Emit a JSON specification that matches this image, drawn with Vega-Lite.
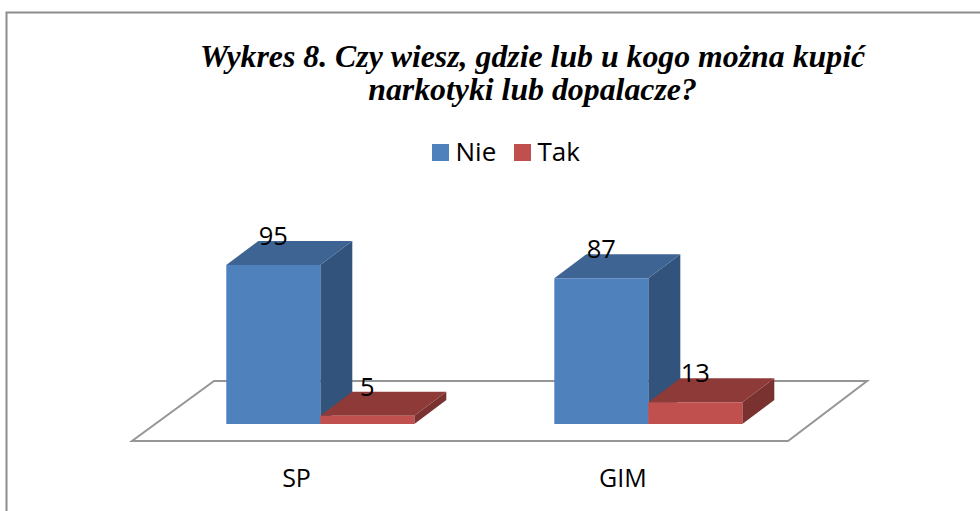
{"$schema":"https://vega.github.io/schema/vega-lite/v6.json","autosize":{"type":"none"},"padding":{"left":6.5,"top":12.5,"right":0,"bottom":0},"width":1000,"height":520,"background":"white","view":{"stroke":"#8c8c8c","strokeWidth":2,"fill":"white"},"title":{"text":["Wykres 8. Czy wiesz, gdzie lub u kogo można kupić","narkotyki lub dopalacze?"],"font":"Liberation Serif","fontSize":31.8,"fontWeight":"bold","fontStyle":"italic","color":"#000000","lineHeight":33,"anchor":"middle","frame":"group","dx":26,"dy":94,"offset":0},"data":{"values":[{"group":"SP","series":"Nie","value":95},{"group":"SP","series":"Tak","value":5},{"group":"GIM","series":"Nie","value":87},{"group":"GIM","series":"Tak","value":13}]},"transform":[{"calculate":"(datum.group==='SP'?0.504:1.504)+(datum.series==='Nie'?-0.2866:0)","as":"u0"},{"calculate":"datum.u0+0.2866","as":"u1"},{"calculate":"(datum.u0+datum.u1)/2","as":"uc"},{"calculate":"datum.group+'-'+datum.series","as":"id"}],"layer":[{"data":{"values":[{"surface":"floor"}]},"transform":[{"calculate":"[{x:-0.07,lo:-10.15,hi:-10.15},{x:0.18,lo:-10.15,hi:25.7},{x:1.93,lo:-10.15,hi:25.7},{x:2.171,lo:25.7,hi:25.7}]","as":"pts"},{"flatten":["pts"]},{"calculate":"datum.pts.x","as":"px"},{"calculate":"datum.pts.lo","as":"plo"},{"calculate":"datum.pts.hi","as":"phi"}],"mark":{"type":"area","fill":"white","stroke":"#969696","strokeWidth":2,"clip":false},"encoding":{"x":{"field":"px","type":"quantitative","scale":{"domain":[-0.4527,2.596]},"axis":{"values":[0.43,1.425],"labelExpr":"datum.value<1?'SP':'GIM'","title":null,"grid":false,"domain":false,"ticks":false,"labelFont":"Open Sans","labelFontSize":25,"labelColor":"#000000","labelPadding":0,"offset":-54,"labelBaseline":"middle"}},"y":{"field":"plo","type":"quantitative","stack":null,"scale":{"domain":[-64.8,245.8]},"axis":null},"y2":{"field":"phi"}}},{"mark":{"type":"area"},"transform":[{"calculate":"[{x:datum.u1,lo:0,hi:datum.value},{x:datum.u1+0.09756,lo:14.34,hi:datum.value+14.34}]","as":"pts"},{"flatten":["pts"]},{"calculate":"datum.pts.x","as":"px"},{"calculate":"datum.pts.lo","as":"plo"},{"calculate":"datum.pts.hi","as":"phi"}],"encoding":{"x":{"field":"px","type":"quantitative","scale":{"domain":[-0.4527,2.596]}},"y":{"field":"plo","type":"quantitative","stack":null,"scale":{"domain":[-64.8,245.8]}},"y2":{"field":"phi"},"detail":{"field":"id"},"fill":{"condition":{"test":"datum.series==='Nie'","value":"#31537C"},"value":"#7A3231"}}},{"mark":{"type":"area"},"transform":[{"calculate":"[{x:datum.u0,lo:datum.value,hi:datum.value},{x:datum.u0+0.09756,lo:datum.value,hi:datum.value+14.34},{x:datum.u1,lo:datum.value,hi:datum.value+14.34},{x:datum.u1+0.09756,lo:datum.value+14.34,hi:datum.value+14.34}]","as":"pts"},{"flatten":["pts"]},{"calculate":"datum.pts.x","as":"px"},{"calculate":"datum.pts.lo","as":"plo"},{"calculate":"datum.pts.hi","as":"phi"}],"encoding":{"x":{"field":"px","type":"quantitative","scale":{"domain":[-0.4527,2.596]}},"y":{"field":"plo","type":"quantitative","stack":null,"scale":{"domain":[-64.8,245.8]}},"y2":{"field":"phi"},"detail":{"field":"id"},"fill":{"condition":{"test":"datum.series==='Nie'","value":"#3E6494"},"value":"#8E3A38"}}},{"mark":{"type":"rect"},"encoding":{"x":{"field":"u0","type":"quantitative","scale":{"domain":[-0.4527,2.596]}},"x2":{"field":"u1"},"y":{"field":"value","type":"quantitative","scale":{"domain":[-64.8,245.8]}},"y2":{"datum":0},"color":{"field":"series","type":"nominal","scale":{"domain":["Nie","Tak"],"range":["#4F81BD","#C0504D"]},"legend":{"orient":"none","legendX":421,"legendY":127,"direction":"horizontal","title":null,"symbolType":"square","symbolSize":289,"symbolStrokeWidth":0,"labelFont":"Open Sans","labelFontSize":26,"labelColor":"#000000","columnPadding":13,"labelOffset":2}}}},{"mark":{"type":"text","font":"Open Sans","fontSize":25.5,"color":"#000000","dy":-28,"baseline":"middle","align":"center"},"encoding":{"x":{"field":"uc","type":"quantitative","scale":{"domain":[-0.4527,2.596]}},"y":{"field":"value","type":"quantitative","scale":{"domain":[-64.8,245.8]}},"text":{"field":"value","type":"quantitative"}}}]}
